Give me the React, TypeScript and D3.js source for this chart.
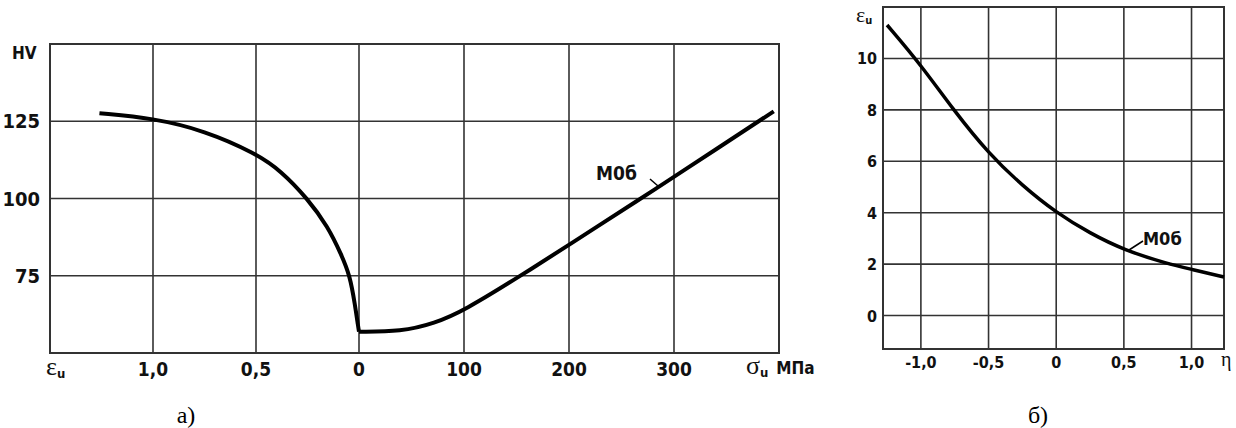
import { useEffect, useRef } from 'react';
import * as d3 from 'd3';

// Рис. а) — левая часть: εu, правая: σu
const epsTicks = [1.0, 0.5, 0];
const sigmaTicks = [100, 200, 300];
const hvTicks = [75, 100, 125];
const epsVals = [1.26, 1.0, 0.75, 0.5, 0.38, 0.25, 0.15, 0.087, 0.044, 0.019, 0.004, 0];
const epsHV = [127.6, 126.0, 122.0, 114.6, 109.0, 100, 90.8, 82.0, 75.1, 65.4, 58.5, 56.9];
const sigmaVals = [0, 40, 72, 100, 154, 200, 272, 300, 395];
const sigmaHV = [56.9, 56.9, 59.6, 63.7, 75, 85, 100.8, 107, 128.2];

// Рис. б)
const etaTicks = [-1.0, -0.5, 0, 0.5, 1.0];
const epsUTicks = [0, 2, 4, 6, 8, 10];
const etaVals = [-1.25, -1.0, -0.76, -0.5, -0.25, 0, 0.25, 0.5, 0.83, 1.0, 1.24];
const epsUVals = [11.3, 9.75, 8, 6.3, 5.05, 4.0, 3.2, 2.55, 2.0, 1.8, 1.5];

const W = 1236;
const H = 428;
const FONT = '"Liberation Sans Narrow", "DejaVu Sans Condensed", "DejaVu Sans", sans-serif';
const SERIF = '"Liberation Serif", "DejaVu Serif", serif';
const GRID = '#333';

const fmt = (v: number) => (v === 0 ? '0' : d3.format('.1f')(v).replace('.', ',').replace('−', '-'));

export default function App() {
  const ref = useRef<SVGSVGElement>(null);

  useEffect(() => {
    const svg = d3.select(ref.current);
    svg.selectAll('*').remove();

    // ---------- а) ----------
    const left = 50, right = 779, top = 44, bottom = 353, zeroX = 359;
    const xEps = d3.scaleLinear().domain([1.5, 0]).range([left, zeroX]);
    const xSig = d3.scaleLinear().domain([0, 400]).range([zeroX, right]);
    const yHV = d3.scaleLinear().domain([50, 150]).range([bottom, top]);

    const ga = svg.append('g');
    // сетка
    [...epsTicks.map(d => xEps(d)), ...sigmaTicks.map(d => xSig(d))].forEach(x => {
      ga.append('line').attr('x1', x).attr('x2', x).attr('y1', top).attr('y2', bottom)
        .attr('stroke', GRID).attr('stroke-width', 1.6);
    });
    hvTicks.forEach(v => {
      ga.append('line').attr('x1', left).attr('x2', right).attr('y1', yHV(v)).attr('y2', yHV(v))
        .attr('stroke', GRID).attr('stroke-width', 1.6);
    });
    ga.append('rect').attr('x', left).attr('y', top).attr('width', right - left).attr('height', bottom - top)
      .attr('fill', 'none').attr('stroke', GRID).attr('stroke-width', 2);

    // подписи осей
    hvTicks.forEach(v => {
      ga.append('text').attr('x', 40).attr('y', yHV(v) + 7).attr('text-anchor', 'end')
        .attr('font-family', FONT).attr('font-weight', 700).attr('font-size', 20).attr('fill', '#111')
        .text(v);
    });
    ga.append('text').attr('x', 12).attr('y', 59).attr('font-family', FONT).attr('font-weight', 700)
      .attr('font-size', 17).attr('fill', '#111').text('HV');
    epsTicks.forEach(v => {
      ga.append('text').attr('x', xEps(v)).attr('y', 376).attr('text-anchor', 'middle')
        .attr('font-family', FONT).attr('font-weight', 700).attr('font-size', 19).attr('fill', '#111')
        .text(fmt(v));
    });
    sigmaTicks.forEach(v => {
      ga.append('text').attr('x', xSig(v)).attr('y', 376).attr('text-anchor', 'middle')
        .attr('font-family', FONT).attr('font-weight', 700).attr('font-size', 19).attr('fill', '#111')
        .text(v);
    });
    const epsLab = ga.append('text').attr('x', 46).attr('y', 375).attr('font-family', SERIF).attr('fill', '#111');
    epsLab.append('tspan').attr('font-size', 26).text('ε');
    epsLab.append('tspan').attr('font-family', FONT).attr('font-weight', 700).attr('font-size', 13).attr('dy', 3).text('u');
    const sigLab = ga.append('text').attr('x', 746).attr('y', 374).attr('font-family', SERIF).attr('fill', '#111');
    sigLab.append('tspan').attr('font-size', 26).text('σ');
    sigLab.append('tspan').attr('font-family', FONT).attr('font-weight', 700).attr('font-size', 13).attr('dy', 3).text('u');
    sigLab.append('tspan').attr('font-family', FONT).attr('font-weight', 700).attr('font-size', 17).attr('dx', 8).attr('dy', -3).text('МПа');

    const line = d3.line<[number, number]>().x(d => d[0]).y(d => d[1]).curve(d3.curveBasis);
    const ptsEps = epsVals.map((e, i) => [xEps(e), yHV(epsHV[i])] as [number, number]);
    const ptsSig = sigmaVals.map((s, i) => [xSig(s), yHV(sigmaHV[i])] as [number, number]);
    ga.append('path').attr('d', line(ptsEps)).attr('fill', 'none').attr('stroke', '#000').attr('stroke-width', 4);
    ga.append('path').attr('d', line(ptsSig)).attr('fill', 'none').attr('stroke', '#000').attr('stroke-width', 4);

    ga.append('line').attr('x1', 650).attr('y1', 179).attr('x2', 658).attr('y2', 186).attr('stroke', '#000').attr('stroke-width', 1.5);
    ga.append('text').attr('x', 596).attr('y', 180).attr('font-family', FONT).attr('font-weight', 700)
      .attr('font-size', 19).attr('fill', '#111').text('М0б');

    ga.append('text').attr('x', 186).attr('y', 423).attr('text-anchor', 'middle').attr('font-family', SERIF)
      .attr('font-size', 24).attr('fill', '#000').text('а)');

    // ---------- б) ----------
    const l2 = 883, r2 = 1224, t2 = 7, b2 = 349;
    const xEta = d3.scaleLinear().domain([-1.28, 1.24]).range([l2, r2]);
    const yEps = d3.scaleLinear().domain([-1.3, 12]).range([b2, t2]);
    const gb = svg.append('g');
    etaTicks.forEach(v => {
      gb.append('line').attr('x1', xEta(v)).attr('x2', xEta(v)).attr('y1', t2).attr('y2', b2)
        .attr('stroke', GRID).attr('stroke-width', 1.6);
      gb.append('text').attr('x', xEta(v)).attr('y', 368).attr('text-anchor', 'middle')
        .attr('font-family', FONT).attr('font-weight', 700).attr('font-size', 16).attr('fill', '#111')
        .text(fmt(v));
    });
    epsUTicks.forEach(v => {
      gb.append('line').attr('x1', l2).attr('x2', r2).attr('y1', yEps(v)).attr('y2', yEps(v))
        .attr('stroke', GRID).attr('stroke-width', 1.6);
      gb.append('text').attr('x', 877).attr('y', yEps(v) + 6).attr('text-anchor', 'end')
        .attr('font-family', FONT).attr('font-weight', 700).attr('font-size', 16).attr('fill', '#111')
        .text(v);
    });
    gb.append('rect').attr('x', l2).attr('y', t2).attr('width', r2 - l2).attr('height', b2 - t2)
      .attr('fill', 'none').attr('stroke', GRID).attr('stroke-width', 2);

    const eLab = gb.append('text').attr('x', 856).attr('y', 22).attr('font-family', SERIF).attr('fill', '#111');
    eLab.append('tspan').attr('font-size', 22).text('ε');
    eLab.append('tspan').attr('font-family', FONT).attr('font-weight', 700).attr('font-size', 11).attr('dy', 2).text('u');
    gb.append('text').attr('x', 1221).attr('y', 366).attr('font-family', SERIF).attr('font-size', 20)
      .attr('fill', '#111').text('η');

    const ptsEta = etaVals.map((e, i) => [xEta(e), yEps(epsUVals[i])] as [number, number]);
    gb.append('path').attr('d', line(ptsEta)).attr('fill', 'none').attr('stroke', '#000').attr('stroke-width', 3.5);

    gb.append('line').attr('x1', 1129).attr('y1', 250).attr('x2', 1143).attr('y2', 241).attr('stroke', '#000').attr('stroke-width', 1.5);
    gb.append('text').attr('x', 1143).attr('y', 245).attr('font-family', FONT).attr('font-weight', 700)
      .attr('font-size', 18).attr('fill', '#111').text('М0б');

    gb.append('text').attr('x', 1038).attr('y', 423).attr('text-anchor', 'middle').attr('font-family', SERIF)
      .attr('font-size', 24).attr('fill', '#000').text('б)');
  }, []);

  return (
    <svg ref={ref} width={W} height={H} style={{ position: 'absolute', left: 0, top: 0, background: '#fff' }} />
  );
}
